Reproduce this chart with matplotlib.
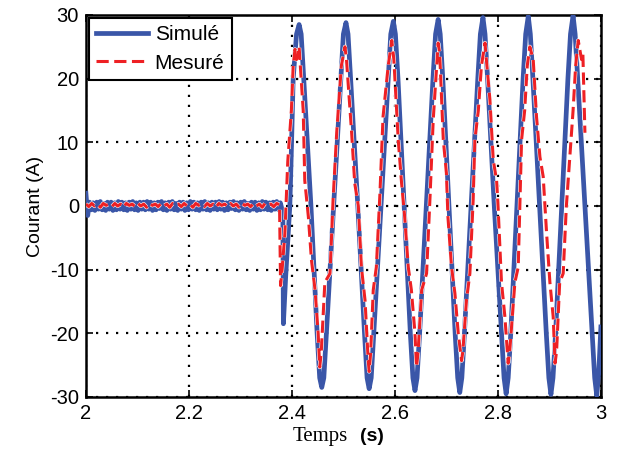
import matplotlib.pyplot as plt
import matplotlib.patheffects as pe
import numpy as np

# current before the step (small ripple around zero)
blue_flat = [2.0, -1.5, 0.6, -0.6, 0.5, -0.7, 0.6, -0.5, 0.7, -0.6, 0.4, -0.7, 0.6, -0.5,
             0.6, -0.7, 0.5, -0.6, 0.7, -0.5, 0.6, -0.6, 0.5, -0.7, 0.6, -0.5, 0.7, -0.6,
             0.5, -0.7, 0.6, -0.5, 0.6, -0.6, 0.7, -0.5, 0.6, -0.7, 0.5, -0.6, 0.6, -0.4,
             0.7, -0.6, 0.5, -0.7, 0.6, -0.5, 0.7, -0.6, 0.4, -0.7, 0.6, -0.5, 0.6, -0.7,
             0.5, -0.6, 0.7, -0.5, 0.6, -0.6, 0.5, -0.7, 0.6, -0.5, 0.7, -0.6, 0.5, -0.7,
             0.6, -0.5, 0.6, -0.6, 0.7, -0.5, 0.6, -0.7, 0.5, -0.6, 0.6, -0.4, 0.7, -0.6,
             0.5, -0.7, 0.6, -0.5, 0.7, -0.6, 0.4, -0.7, 0.6, -0.5, 0.6, -0.7, 0.5, -0.6,
             0.7, -0.5, 0.6, -0.6, 0.5, -0.7, 0.6, -0.5, 0.7, -0.6, 0.5, -0.6]
red_flat = [0.3, -0.1, 0.4, 0.0, 0.3, -0.2, 0.4, 0.1, 0.3, -0.1, 0.4, 0.0, 0.3, -0.2,
            0.4, 0.1, 0.3, -0.1, 0.4, 0.0, 0.3, -0.2, 0.4, 0.1, 0.3, -0.1, 0.4, 0.0,
            0.3, -0.2, 0.4, 0.1, 0.3, -0.1, 0.4, 0.0, 0.3, -0.2, 0.4, 0.1, 0.3, -0.1,
            0.4, 0.0, 0.3, -0.2, 0.4, 0.1, 0.3, -0.1, 0.4, 0.0, 0.3, -0.2, 0.4, 0.1,
            0.3, -0.1, 0.4, 0.0, 0.3, -0.2, 0.4, 0.1, 0.3, -0.1, 0.4, 0.2]

# Simulé after the step
blue_t = [2.3825, 2.3835, 2.388, 2.393, 2.396, 2.399, 2.4025, 2.409, 2.414,
          2.418, 2.423, 2.437, 2.449, 2.454, 2.458,
          2.462, 2.467, 2.481, 2.495, 2.500, 2.505,
          2.509, 2.514, 2.528, 2.541, 2.546, 2.550,
          2.554, 2.559, 2.573, 2.587, 2.592, 2.597,
          2.601, 2.606, 2.618, 2.630, 2.635, 2.639,
          2.643, 2.648, 2.661, 2.674, 2.679, 2.684,
          2.688, 2.693, 2.705, 2.717, 2.722, 2.726,
          2.730, 2.735, 2.748, 2.761, 2.766, 2.771,
          2.775, 2.780, 2.793, 2.807, 2.812, 2.816,
          2.820, 2.825, 2.837, 2.849, 2.854, 2.859,
          2.863, 2.868, 2.881, 2.894, 2.899, 2.903,
          2.907, 2.912, 2.924, 2.936, 2.941, 2.946,
          2.950, 2.955, 2.969, 2.983, 2.988, 2.992,
          2.996, 3.000]
blue_v = [-2, -18.5, -11, -4.3, 0, 8.8, 20, 27, 28.5,
          27, 20, 0, -20, -27, -28.5,
          -27, -20, 0, 20, 27, 28.8,
          27, 20, 0, -20, -27, -28.7,
          -27, -20, 0, 20, 27, 29.0,
          27, 20, 0, -20, -27, -29.0,
          -27, -20, 0, 20, 27, 29.3,
          27, 20, 0, -20, -27, -29.3,
          -27, -20, 0, 20, 27, 29.6,
          27, 20, 0, -20, -27, -29.5,
          -27, -20, 0, 20, 27, 29.8,
          27, 20, 0, -20, -27, -29.6,
          -27, -20, 0, 20, 27, 29.9,
          27, 20, 0, -20, -27, -29.8,
          -26, -19]

# Mesuré after the step
red_t = [2.3765, 2.378, 2.381, 2.3864, 2.392, 2.396, 2.399, 2.4025, 2.406, 2.409, 2.414,
         2.422, 2.425, 2.432, 2.438, 2.445, 2.451, 2.454, 2.457,
         2.464, 2.474, 2.480, 2.487, 2.490, 2.496, 2.503, 2.506,
         2.516, 2.522, 2.529, 2.535, 2.542, 2.548, 2.550, 2.553,
         2.558, 2.564, 2.571, 2.577, 2.587, 2.594, 2.598,
         2.6065, 2.613, 2.619, 2.626, 2.632, 2.639, 2.642, 2.645,
         2.652, 2.6615, 2.668, 2.6744, 2.681, 2.684, 2.687,
         2.694, 2.700, 2.703, 2.710, 2.7165, 2.723, 2.7295, 2.732,
         2.739, 2.7456, 2.752, 2.7553, 2.762, 2.768, 2.775, 2.777,
         2.7845, 2.791, 2.7975, 2.800, 2.807, 2.8136, 2.820, 2.823,
         2.833, 2.8395, 2.843, 2.846, 2.852, 2.857, 2.862, 2.8686,
         2.875, 2.8816, 2.888, 2.8946, 2.901, 2.9074, 2.911, 2.914,
         2.920, 2.9268, 2.933, 2.943, 2.946, 2.951, 2.956, 2.9625, 2.965, 2.969]
red_v = [-3, -12.5, -10, -4.3, 7, 11.5, 15, 22, 24.6, 23, 25,
         15, 4, -1.7, -8.5, -13.2, -20, -25.3, -23,
         -12, -10.6, 1, 11.5, 15, 22, 25, 23,
         11.5, 3.6, 0, -9.6, -14.8, -24, -26, -23,
         -13.2, -9.6, 2, 14, 22, 26, 23,
         10.4, 3.6, -1.7, -9.6, -13.2, -20, -25.3, -23,
         -13.2, -10.6, 1, 13.5, 22, 25.6, 24,
         10.4, 5.2, -1.7, -9.6, -13.7, -20, -24.3, -22.8,
         -14.8, -10.6, 1, 10.4, 15, 22, 25.6, 23.6,
         16.7, 7.2, 4, 0.5, -12, -17.4, -24.7, -22.8,
         -12, -9.6, 1, 10.4, 15, 22, 25, 23,
         14, 7.7, 4.6, -4.3, -12, -17.4, -24.7, -22.8,
         -12, -10.6, 0, 11.5, 15, 22, 26, 23, 24, 11.5]

x_ticks = [2, 2.2, 2.4, 2.6, 2.8, 3]
x_labels = ['2', '2.2', '2.4', '2.6', '2.8', '3']
y_ticks = [-30, -20, -10, 0, 10, 20, 30]

t_sim = np.concatenate([np.linspace(2.0, 2.381, len(blue_flat)), blue_t])
i_sim = np.concatenate([blue_flat, blue_v])
t_mes = np.concatenate([np.linspace(2.0, 2.376, len(red_flat)), red_t])
i_mes = np.concatenate([red_flat, red_v])

plt.rcParams['font.family'] = ['Liberation Sans', 'DejaVu Sans']
plt.rcParams['axes.unicode_minus'] = False

fig = plt.figure(figsize=(6.18, 4.54), dpi=100)
ax = fig.add_axes([0.139, 0.1256, 0.8333, 0.8414])

ax.plot(t_sim, i_sim, color='#3a56a8', lw=3.4, solid_joinstyle='round',
        label='Simulé', zorder=3)
ax.plot(t_mes, i_mes, color='#ee2024', lw=2.2, dashes=(4, 1.8), label='Mesuré', zorder=4,
        path_effects=[pe.Stroke(linewidth=3.0, foreground='white'), pe.Normal()])

ax.set_xlim(2, 3)
ax.set_ylim(-30, 30)
ax.set_xticks(x_ticks)
ax.set_xticklabels(x_labels)
ax.set_yticks(y_ticks)
ax.tick_params(direction='in', length=5, width=1.2, labelsize=14.5, top=True, right=True, pad=5)
ax.grid(True, color='black', linestyle=(0, (1, 3.5)), linewidth=1.6)
for s in ax.spines.values():
    s.set_linewidth(1.8)

ax.set_ylabel('Courant (A)', fontsize=14, labelpad=4)
fig.text(0.518, 0.038, 'Temps', fontsize=15, family='Liberation Serif', ha='center', va='center')
fig.text(0.602, 0.038, '(s)', fontsize=14, fontweight='bold', ha='center', va='center')

leg = ax.legend(loc='upper left', fontsize=15, handlelength=2.5, handletextpad=0.3,
                borderaxespad=0.15, borderpad=0.35, labelspacing=0.45, fancybox=False,
                framealpha=1)
leg.get_frame().set_edgecolor('black')
leg.get_frame().set_linewidth(1.5)

fig.savefig('out.png', dpi=100)
